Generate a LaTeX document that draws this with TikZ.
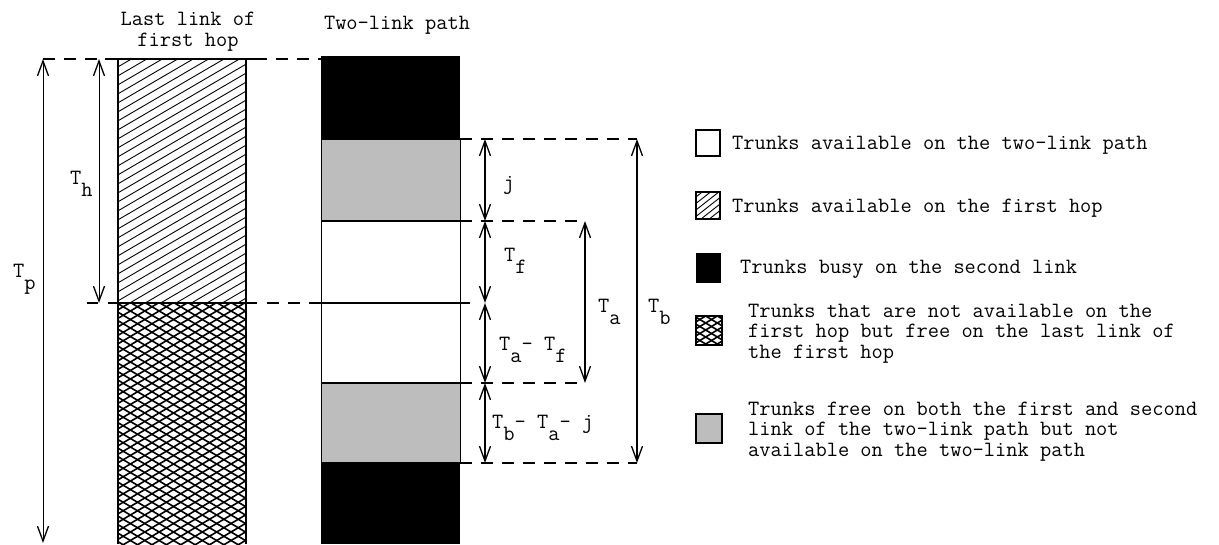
\documentclass[tikz,border=0pt]{standalone}
\usepackage{fontspec}
\usetikzlibrary{arrows.meta}
\newcommand\subs[1]{\raisebox{-0.57em}{#1}}
\begin{document}
\begin{tikzpicture}[x=1pt,y=-1pt,
  txt/.style={font=\ttfamily\fontsize{21.8}{20.5}\selectfont, inner sep=0pt, anchor=base west},
  lbl/.style={font=\ttfamily\fontsize{21.8}{21}\selectfont, inner sep=0pt, align=center},
  edge/.style={line width=1.3pt},
  hatch/.style={line width=0.9pt},
  xhatch/.style={line width=1.6pt},
  dline/.style={line width=1.1pt, dash pattern=on 12pt off 9pt},
  dim/.style={line width=1.2pt, {Straight Barb[length=15pt,width=11pt,line width=1.3pt]}-{Straight Barb[length=15pt,width=11pt,line width=1.3pt]}},
  thindim/.style={line width=0.9pt, {Straight Barb[length=15pt,width=11pt,line width=1.3pt]}-{Straight Barb[length=15pt,width=11pt,line width=1.3pt]}},
  graybox/.style={fill=black!26}
]
\useasboundingbox (0,0) rectangle (1219,544);

% ---------- level coordinates ----------
\coordinate (pT) at (43,59);
\coordinate (pB) at (43,543);
\coordinate (hT) at (99,59);
\coordinate (hB) at (99,303);
\coordinate (jT) at (485,139);
\coordinate (jB) at (485,221);
\coordinate (fB) at (485,303);
\coordinate (afB) at (485,383);
\coordinate (bajB) at (485,463);
\coordinate (aT) at (585,221);
\coordinate (aB) at (585,383);
\coordinate (bT) at (637,139);
\coordinate (bB) at (637,463);

% ---------- left bar ----------
\begin{scope}
\clip (118,59) rectangle (246,303);
\foreach \i in {0,...,37} \draw[hatch] (116,{59+\i*9}) -- ++(132,-77);
\end{scope}
\begin{scope}
\clip (118,303) rectangle (246,544);
\foreach \i in {0,...,46} {
  \draw[xhatch] (116,{226+\i*8.5}) -- ++(132,78);
  \draw[xhatch] (116,{226+\i*8.5}) -- ++(132,-78);
}
\end{scope}
\draw[edge] (118,59) -- (118,544);
\draw[edge] (246,59) -- (246,544);
\draw[edge] (105,59) -- (255,59);

% ---------- right bar ----------
\fill (321,56) rectangle (460,139);
\fill[graybox] (321,139) rectangle (460,221);
\fill[graybox] (321,383) rectangle (460,463);
\fill (321,463) rectangle (460,544);
\draw[line width=1pt] (321,139) -- (321,463);
\draw[line width=1pt] (460,139) -- (460,463);
\foreach \yy in {139,221,303,383,463} \draw[edge] (321,\yy) -- (470,\yy);

% ---------- dashed level lines ----------
\draw[dline] (pT) -- (105,59);
\draw[dline] (255,59) -- (321,59);
\draw[line width=1.1pt] (87,303) -- (98,303);
\draw[edge] (108,303) -- (257,303);
\draw[dline] (267,303) -- (321,303);
\draw[dline] (460,139) -- (bT);
\draw[dline] (460,221) -- (aT);
\draw[dline] (460,383) -- (aB);
\draw[dline] (460,463) -- (bB);

% ---------- dimension arrows ----------
\draw[thindim] (pT) -- (pB);
\draw[thindim] (hT) -- (hB);
\draw[dim] (jT) -- (jB);
\draw[dim] (jB) -- (fB);
\draw[dim] (fB) -- (afB);
\draw[dim] (afB) -- (bajB);
\draw[dim] (aT) -- (aB);
\draw[dim] (bT) -- (bB);

% ---------- labels ----------
\node[lbl] (h1) at (188,32) {Last link of\\first hop};
\node[lbl] (h2) at (397,25) {Two-link path};
\node[txt] (Tp) at (13,277) {T\subs{p}};
\node[txt] (Th) at (70,184) {T\subs{h}};
\node[txt] (lj) at (503,189) {j};
\node[txt] (lf) at (504,261) {T\subs{f}};
\node[txt] (laf) at (499,350) {T\subs{a}- T\subs{f}};
\node[txt] (lbaj) at (492,428) {T\subs{b}- T\subs{a}- j};
\node[txt] (la) at (598,312) {T\subs{a}};
\node[txt] (lb) at (648,312) {T\subs{b}};

% ---------- legend ----------
\draw[line width=1.2pt] (696,130) rectangle (720,156);
\node[txt] (t1) at (732,149) {Trunks available on the two-link path};

\begin{scope}
\clip (696,192) rectangle (720,219);
\foreach \i in {0,...,8} \draw[hatch] (694,{192+\i*6.5}) -- ++(28,-22);
\end{scope}
\draw[line width=1.1pt] (696,192) rectangle (720,219);
\node[txt] (t2) at (732,212) {Trunks available on the first hop};

\fill (696,253) rectangle (721,283);
\node[txt] (t3) at (740,273) {Trunks busy on the second link};

\begin{scope}
\clip (696,316) rectangle (722,345);
\foreach \i in {0,...,9} {
  \draw[xhatch] (694,{302+\i*7}) -- ++(30,18);
  \draw[xhatch] (694,{302+\i*7}) -- ++(30,-18);
}
\end{scope}
\draw[line width=1.1pt] (696,316) rectangle (722,345);
\node[txt,align=left] (t4) at (748,358) {Trunks that are not available on the\\first hop but free on the last link of\\the first hop};

\draw[line width=1.2pt, graybox] (696,414) rectangle (722,443);
\node[txt,align=left] (t5) at (748,456) {Trunks free on both the first and second\\link of the two-link path but not\\available on the two-link path};
\end{tikzpicture}
\end{document}
